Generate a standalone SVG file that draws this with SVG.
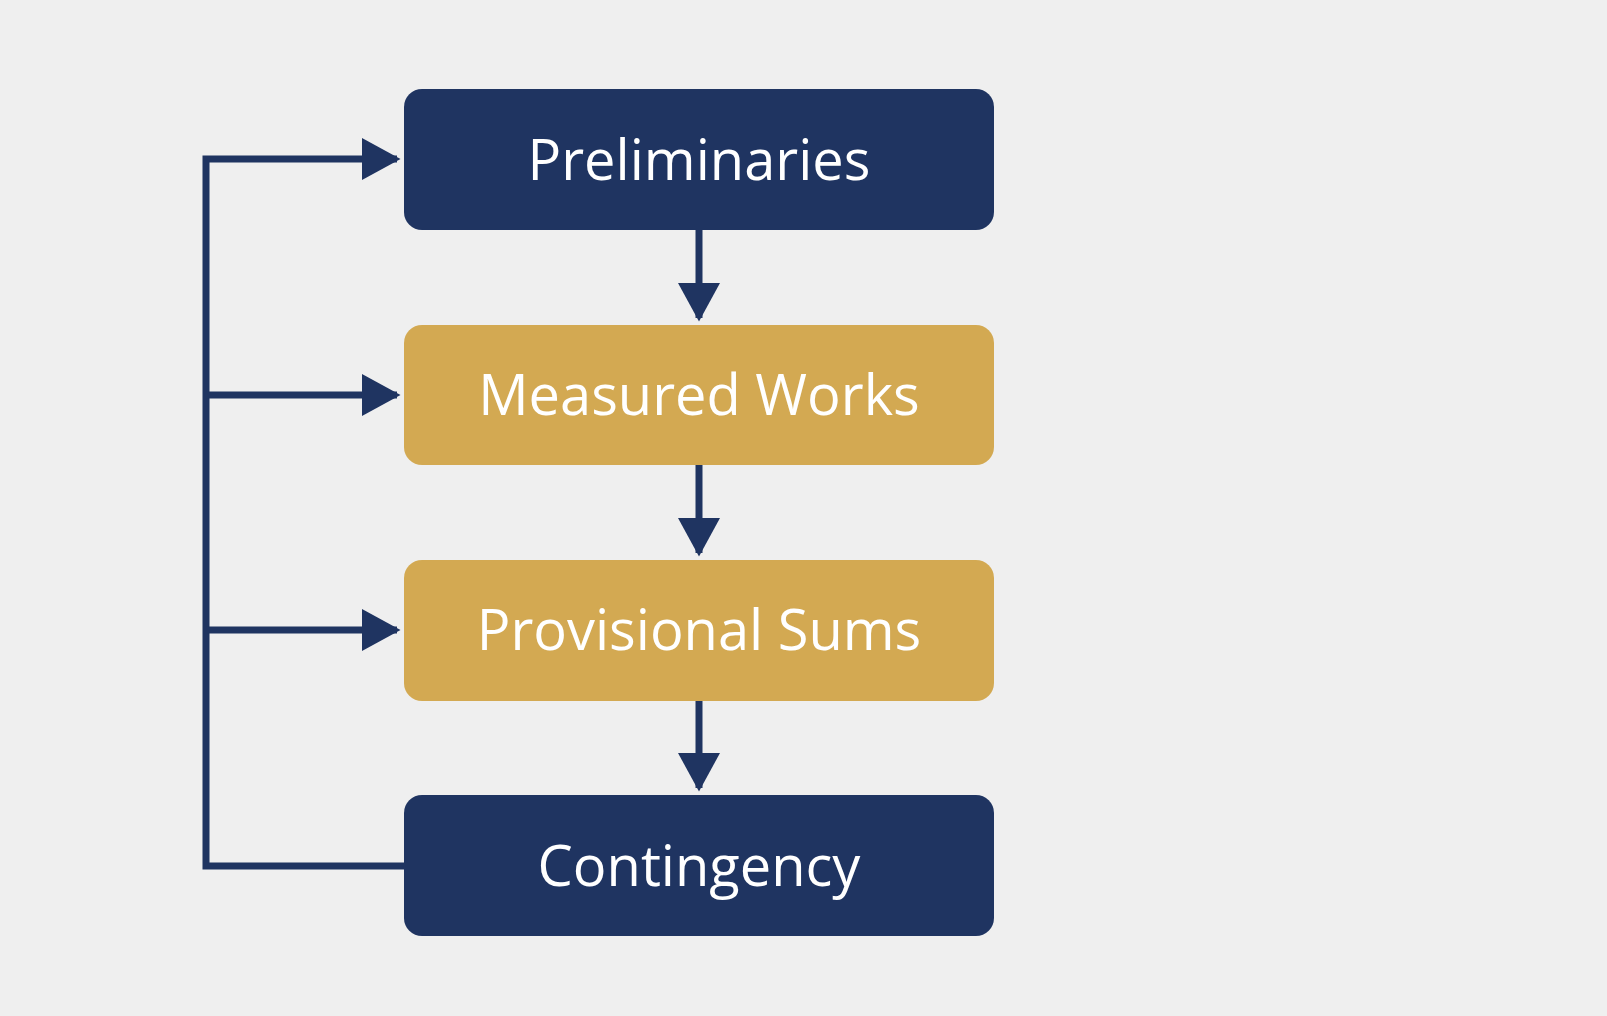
<svg xmlns="http://www.w3.org/2000/svg" width="1607" height="1016" viewBox="0 0 1607 1016">
<style>
.navy{fill:#1f3461}.gold{fill:#d3a952}
.t{font-family:"Open Sans","Noto Sans",sans-serif;font-size:56px;fill:#fff;text-anchor:middle}
.c{stroke:#1f3461;stroke-width:7;fill:none}
</style>
<defs><marker id="a" markerWidth="6" markerHeight="6" refX="5" refY="3" orient="auto" markerUnits="strokeWidth"><path d="M0,0L5.5,3L0,6z" fill="#1f3461"/></marker></defs>
<rect width="1607" height="1016" fill="#efefef"/>
<g id="n1"><rect class="navy" x="404" y="89" width="590" height="141" rx="18"/><text class="t" x="699" y="180">Preliminaries</text></g>
<g id="n2"><rect class="gold" x="404" y="325" width="590" height="140" rx="18"/><text class="t" x="699" y="415">Measured Works</text></g>
<g id="n3"><rect class="gold" x="404" y="560" width="590" height="141" rx="18"/><text class="t" x="699" y="650">Provisional Sums</text></g>
<g id="n4"><rect class="navy" x="404" y="795" width="590" height="141" rx="18"/><text class="t" x="699" y="886">Contingency</text></g>
<g id="connectors">
<path class="c" d="M699,230V318" marker-end="url(#a)"/>
<path class="c" d="M699,465V553" marker-end="url(#a)"/>
<path class="c" d="M699,701V788" marker-end="url(#a)"/>
<path class="c" d="M404,866H206V159H397" marker-end="url(#a)"/>
<path class="c" d="M206,395H397" marker-end="url(#a)"/>
<path class="c" d="M206,630H397" marker-end="url(#a)"/>
</g>
</svg>
